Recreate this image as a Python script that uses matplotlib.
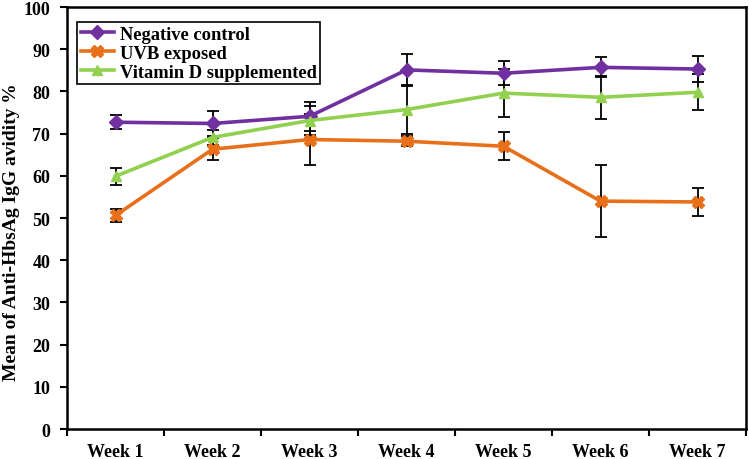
import matplotlib
matplotlib.use("Agg")
import matplotlib.pyplot as plt
import numpy as np

weeks = ["Week 1", "Week 2", "Week 3", "Week 4", "Week 5", "Week 6", "Week 7"]
neg_control = [72.7, 72.4, 74.1, 85.1, 84.3, 85.7, 85.3]
neg_control_err = [1.7, 2.9, 3.5, 3.8, 2.9, 2.4, 3.0]
uvb_exposed = [50.6, 66.3, 68.6, 68.2, 67.0, 54.0, 53.8]
uvb_exposed_err = [1.5, 2.6, 6.0, 1.2, 3.3, 8.5, 3.3]
vitd_supp = [59.9, 69.1, 73.1, 75.7, 79.6, 78.6, 79.8]
vitd_supp_err = [2.0, 1.8, 3.5, 5.8, 5.6, 5.1, 4.3]
yticks = list(range(0, 101, 10))

plt.rcParams['font.family'] = ['Liberation Serif', 'DejaVu Serif']
plt.rcParams['font.weight'] = 'bold'

fig = plt.figure(figsize=(7.49, 4.60), dpi=100)
ax = fig.add_axes([0.0895, 0.0652, 0.9065, 0.9174])

x = np.arange(1, len(weeks) + 1)

series = [
    (neg_control, neg_control_err, "Negative control", "#7030A0", "D", 7),
    (uvb_exposed, uvb_exposed_err, "UVB exposed", "#E8701A", "X", 8),
    (vitd_supp, vitd_supp_err, "Vitamin D supplemented", "#92D050", "^", 7),
]
handles = []
for vals, err, label, color, marker, ms in series:
    ax.errorbar(x, vals, yerr=err, fmt="none", ecolor="black", elinewidth=1.3,
                capsize=4, capthick=1.3, zorder=2)
    h, = ax.plot(x, vals, color=color, marker=marker, markersize=ms, linewidth=2.6,
                 markeredgecolor=color, label=label, zorder=3)
    handles.append(h)

ax.set_xlim(0.5, len(weeks) + 0.5)
ax.set_ylim(0, 100)
ax.set_yticks(yticks)
ax.set_yticklabels([str(v) for v in yticks], fontsize=13, fontweight='bold')
ax.set_xticks(np.arange(0.5, len(weeks) + 1, 1.0))
ax.set_xticklabels([])
ax.set_xticks(x, minor=True)
ax.set_xticklabels(weeks, minor=True, fontsize=13, fontweight='bold')
ax.tick_params(axis='x', which='major', direction='out', length=5, width=1.5)
ax.tick_params(axis='x', which='minor', length=0, pad=10)
ax.tick_params(axis='y', which='major', direction='out', length=5, width=1.5, pad=7)

for s in ax.spines.values():
    s.set_linewidth(1.8)
    s.set_color("black")

fig.text(12 / 749, 1 - 232 / 460, "Mean of Anti-HbsAg IgG avidity %", rotation=90,
         ha="center", va="center", fontsize=14, fontweight='bold')

leg = ax.legend(handles=handles, loc="upper left", bbox_to_anchor=(0.0147, 0.964),
                borderaxespad=0, fancybox=False, framealpha=1, edgecolor="black",
                prop={'size': 13.3, 'weight': 'bold'}, handlelength=1.8,
                handletextpad=0.3, borderpad=0.2, labelspacing=0.1)
leg.get_frame().set_linewidth(1.2)

fig.savefig("out.png", dpi=100)
